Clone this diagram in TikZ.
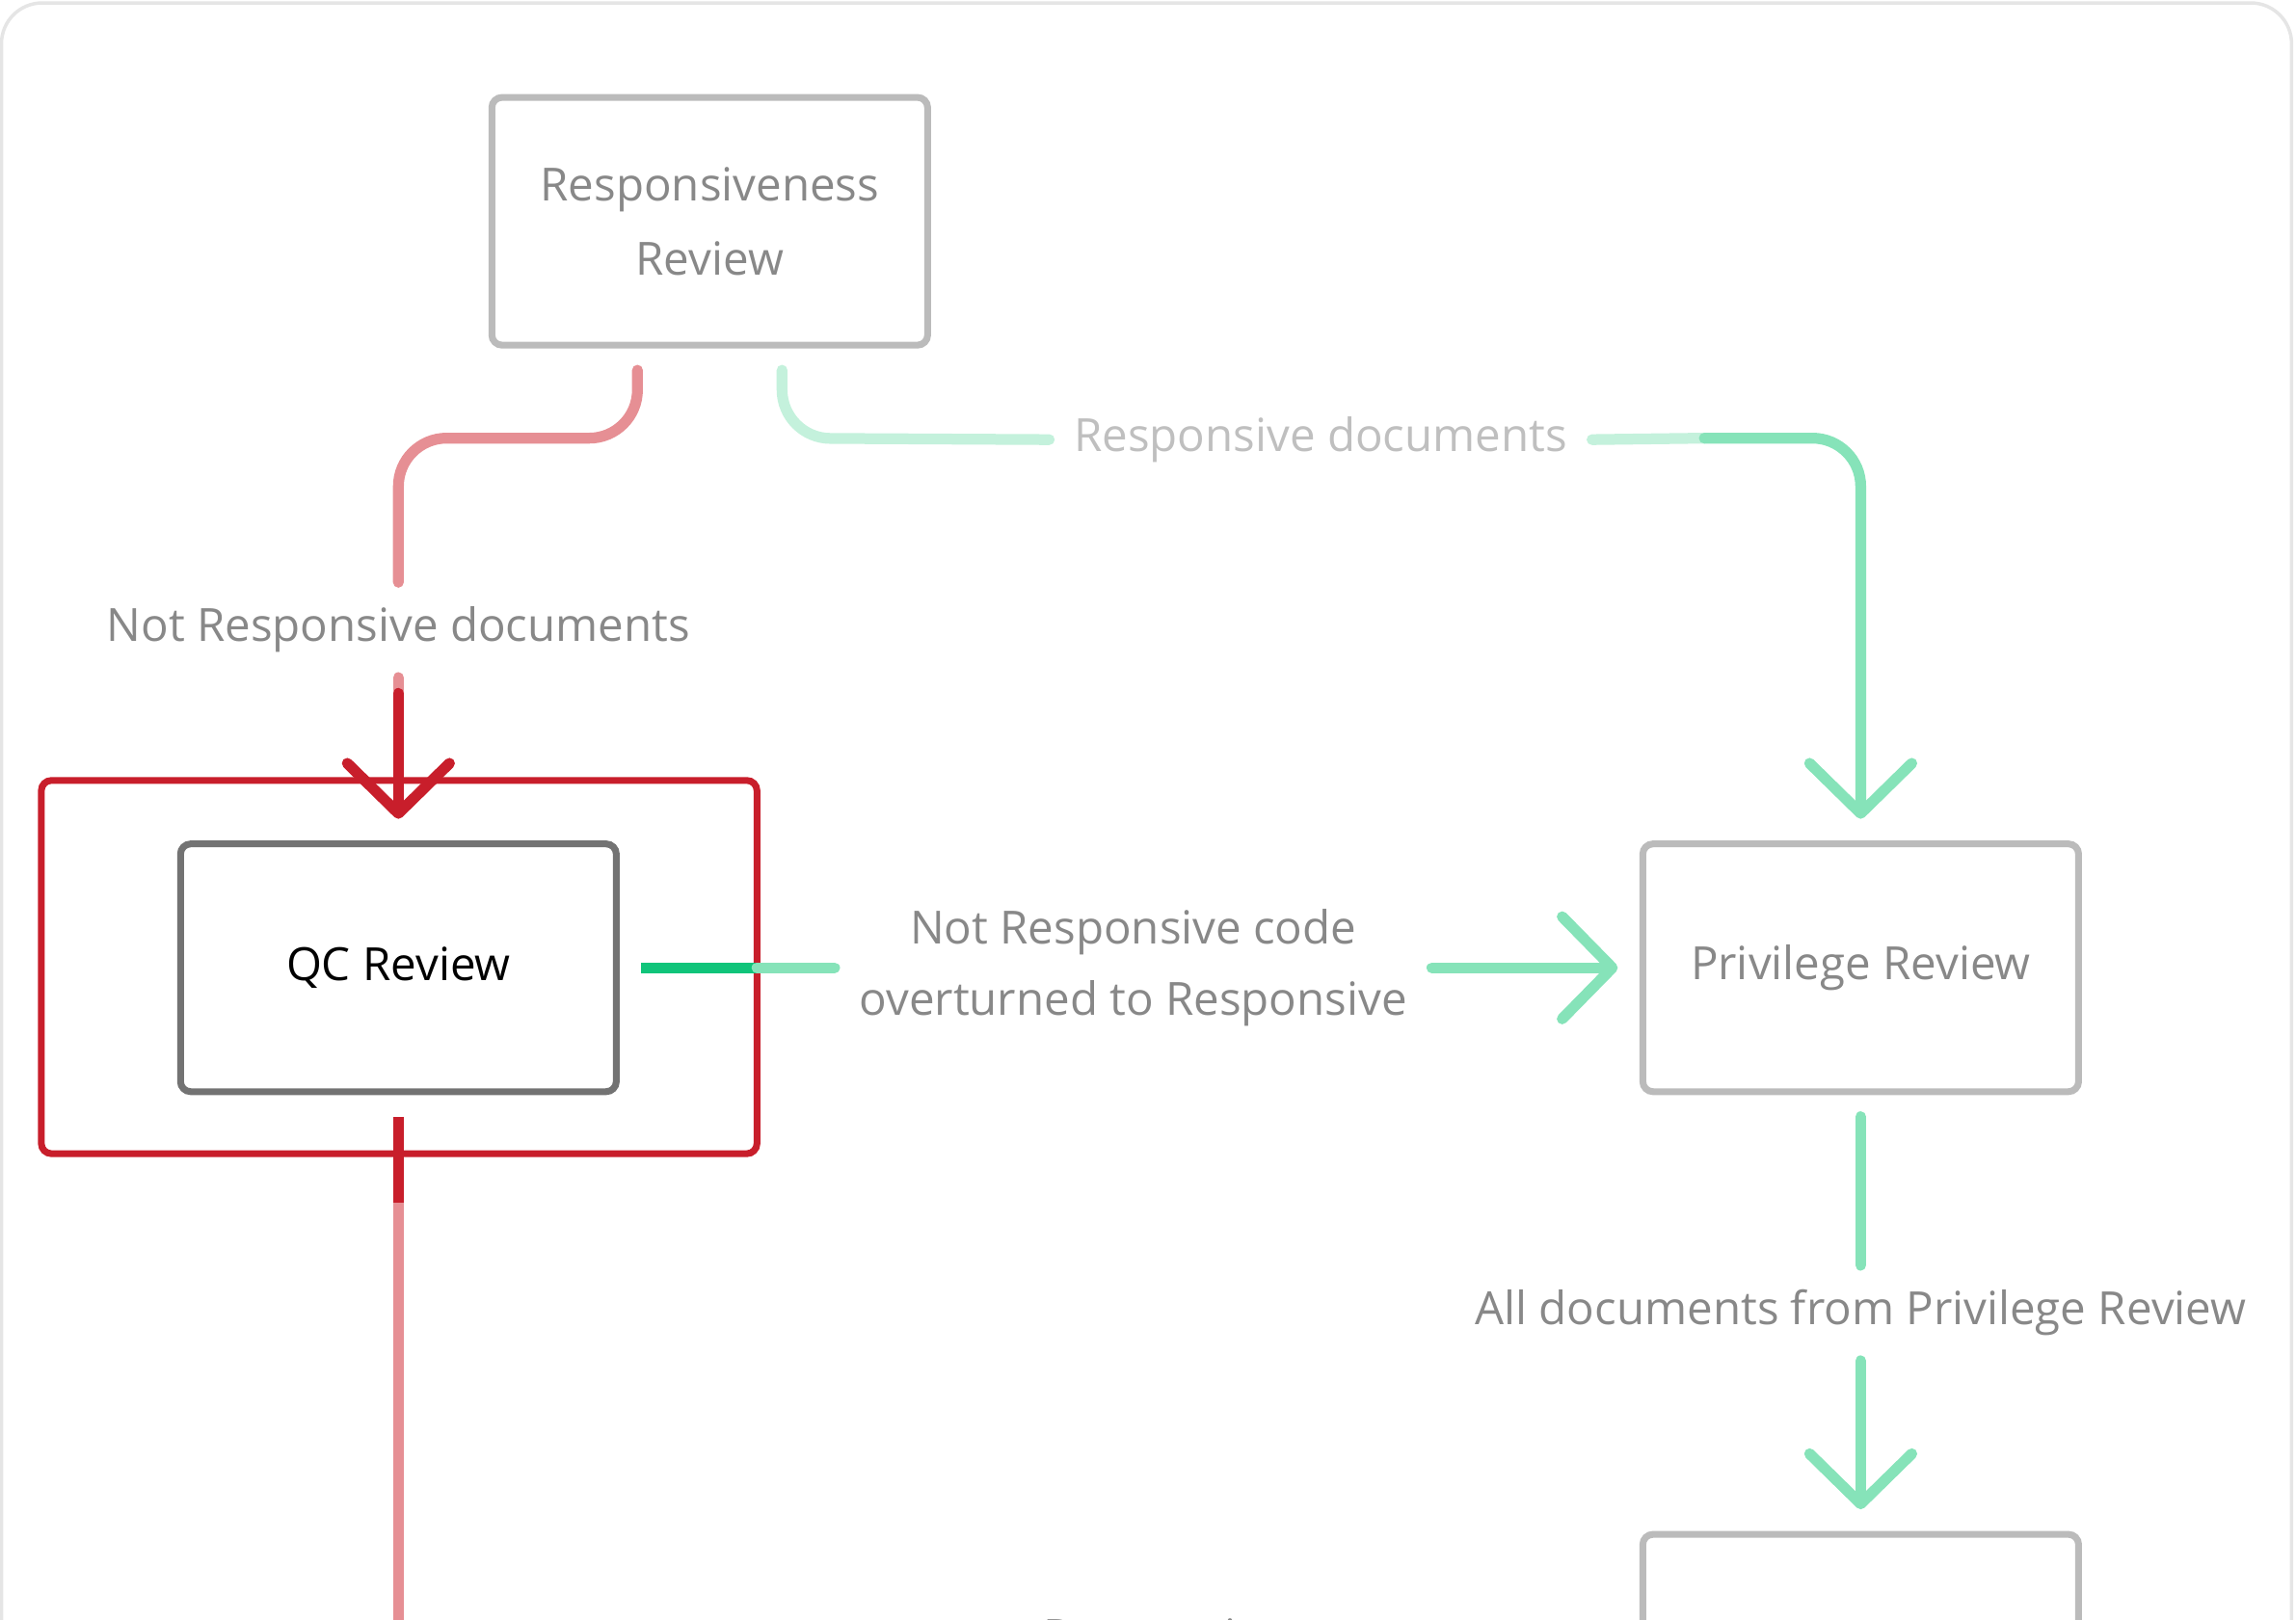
\documentclass[tikz,border=0pt]{standalone}
\usepackage{fontspec}
\setmainfont{Open Sans}
\usetikzlibrary{arrows.meta,positioning}
\definecolor{redlight}{HTML}{E68F94}
\definecolor{reddark}{HTML}{C81E2B}
\definecolor{greenlight}{HTML}{86E3B9}
\definecolor{greenpale}{HTML}{C4F1DC}
\definecolor{greendark}{HTML}{10C47A}
\definecolor{boxgray}{HTML}{BBBBBB}
\definecolor{textgray}{HTML}{888888}
\tikzset{
  stage/.style={draw=boxgray, line width=2pt, rounded corners=3pt, minimum width=4.52cm,
    minimum height=2.57cm, align=center, text=textgray, font=\fontsize{13.5}{22}\selectfont,
    outer sep=0.26cm},
  lbl/.style={text=textgray, align=center, font=\fontsize{13.5}{21}\selectfont, inner sep=0.25cm},
  flow/.style={line width=3.2pt, line cap=round, rounded corners=0.5cm},
  chev/.style={-{Straight Barb[length=5.2mm,width=10.6mm,line cap=round,round]}}
}
\begin{document}
\begin{tikzpicture}[x=0.01531cm, y=-0.01531cm]
\useasboundingbox (0,0) rectangle (1556,1098);
\clip (0,0) rectangle (1556,1098);
\draw[black!10, line width=1pt, rounded corners=12pt] (1,2) rectangle (1553,1200);
% stages
\node[stage] (resp) at (481,150) {Responsiveness\\Review};
\node[stage, draw=black!55, text=black] (qc) at (270,656) {QC Review};
\node[stage] (priv) at (1261,656) {Privilege Review};
\node[stage] (next) at (1261,1124) {};
\draw[reddark, line width=2pt, rounded corners=3pt] (28,529) rectangle (513,782);
% labels
\node[lbl] (notresp) at (270,427) {Not Responsive documents};
\node[lbl, text=black!25] (respdocs) at (895,298) {Responsive documents};
\node[lbl] (overturn) at (768,656) {Not Responsive code\\overturned to Responsive};
\node[lbl] (alldocs) at (1261,890) {All documents from Privilege Review};
\node[lbl] (respnext) at (822,1112) {Responsiveness};
% not responsive path
\draw[flow, redlight] (resp.south -| 432,0) -- (432,297) -- (270,297) -- (notresp.north);
\draw[flow, redlight] (notresp.south) -- (270,470);
\draw[flow, reddark, chev] (270,470) -- (qc.north);
% responsive path
\draw[flow, greenpale] (resp.south -| 530,0) -- (530,297) -- (respdocs.west);
\draw[flow, greenpale] (respdocs.east) -- (1155,297);
\draw[flow, greenlight, chev] (1155,297) -- (1261,297) -- (priv.north);
% overturned
\draw[flow, greendark, line cap=butt] (qc.east) -- (513,656);
\draw[flow, greenlight] (513,656) -- (overturn.west);
\draw[flow, greenlight, chev] (overturn.east) -- (priv.west);
% privilege to next
\draw[flow, greenlight] (priv.south) -- (alldocs.north);
\draw[flow, greenlight, chev] (alldocs.south) -- (next.north);
% qc down
\draw[flow, reddark, line cap=butt] (qc.south) -- (270,815);
\draw[flow, redlight, line cap=butt] (270,815) -- (270,1110);
\end{tikzpicture}
\end{document}
